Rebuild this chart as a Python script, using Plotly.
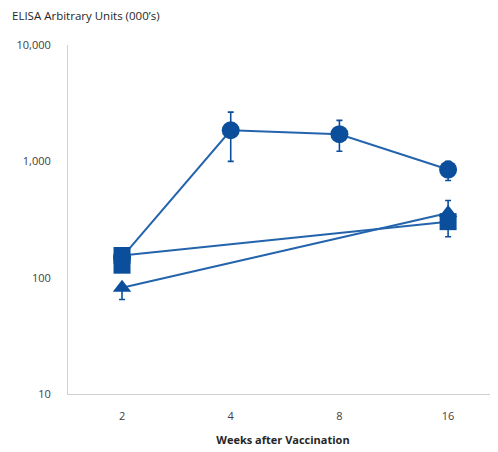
import plotly.graph_objects as go

weeks = ["2", "4", "8", "16"]

# Series values (ELISA arbitrary units, 000's)
circle_x = [0, 1, 2, 3]
circle_y = [150, 1850, 1710, 850]
circle_err_plus = [0, 800, 540, 150]
circle_err_minus = [0, 850, 490, 165]

triangle_x = [0, 3]
triangle_y = [82, 360]
triangle_err_plus = [0, 100]
triangle_err_minus = [17, 0]

square_x = [0, 3]
square_y = [155, 303]
square_err_plus = [0, 0]
square_err_minus = [0, 78]

square2_x = [0]
square2_y = [128]

y_tickvals = [10, 100, 1000, 10000]
y_ticktext = ["10", "100", "1,000", "10,000"]

line_color = "#2464ad"
marker_color = "#0b4f9c"

fig = go.Figure()

def add(x, y, sym, size, ep=None, em=None, mode="lines+markers"):
    err = None
    if ep is not None:
        err = dict(type="data", symmetric=False, array=ep, arrayminus=em,
                   color=marker_color, thickness=1.6, width=3)
    fig.add_trace(go.Scatter(
        x=x, y=y, mode=mode,
        line=dict(color=line_color, width=2),
        marker=dict(symbol=sym, size=size, color=marker_color,
                    line=dict(width=0)),
        error_y=err, showlegend=False, hoverinfo="skip"))

add(circle_x, circle_y, "circle", 18, circle_err_plus, circle_err_minus)
add(triangle_x, triangle_y, "triangle-up", 16, triangle_err_plus, triangle_err_minus)
add(square_x, square_y, "square", 17, square_err_plus, square_err_minus)
add(square2_x, square2_y, "square", 17, mode="markers")

font_family = "Open Sans, Liberation Sans, sans-serif"

fig.update_layout(
    width=490, height=444,
    margin=dict(l=60, r=0, t=37, b=58),
    paper_bgcolor="white", plot_bgcolor="white",
    font=dict(family=font_family, size=11, color="#404040"),
    xaxis=dict(
        range=[-0.497, 3.459],
        tickvals=[0, 1, 2, 3], ticktext=weeks,
        showgrid=False, zeroline=False,
        showline=True, linecolor="#d0d0d0", linewidth=1,
        ticks="", ticklabelstandoff=12,
        tickfont=dict(size=11, color="#404040"),
        title=dict(text="<b>Weeks after Vaccination</b>",
                   font=dict(size=11, color="#262626"), standoff=14),
    ),
    yaxis=dict(
        type="log", range=[1, 4],
        tickvals=y_tickvals, ticktext=y_ticktext,
        showgrid=False, zeroline=False,
        showline=True, linecolor="#d0d0d0", linewidth=1,
        ticks="", ticklabelstandoff=14,
        tickfont=dict(size=11, color="#404040"),
    ),
    annotations=[dict(
        text="ELISA Arbitrary Units (000\u2019s)",
        xref="paper", yref="paper",
        x=-58 / 430, y=1 + 29 / 349,
        xanchor="left", yanchor="middle", showarrow=False,
        font=dict(size=11.5, color="#262626"),
    )],
)

fig.write_html("out.html")
